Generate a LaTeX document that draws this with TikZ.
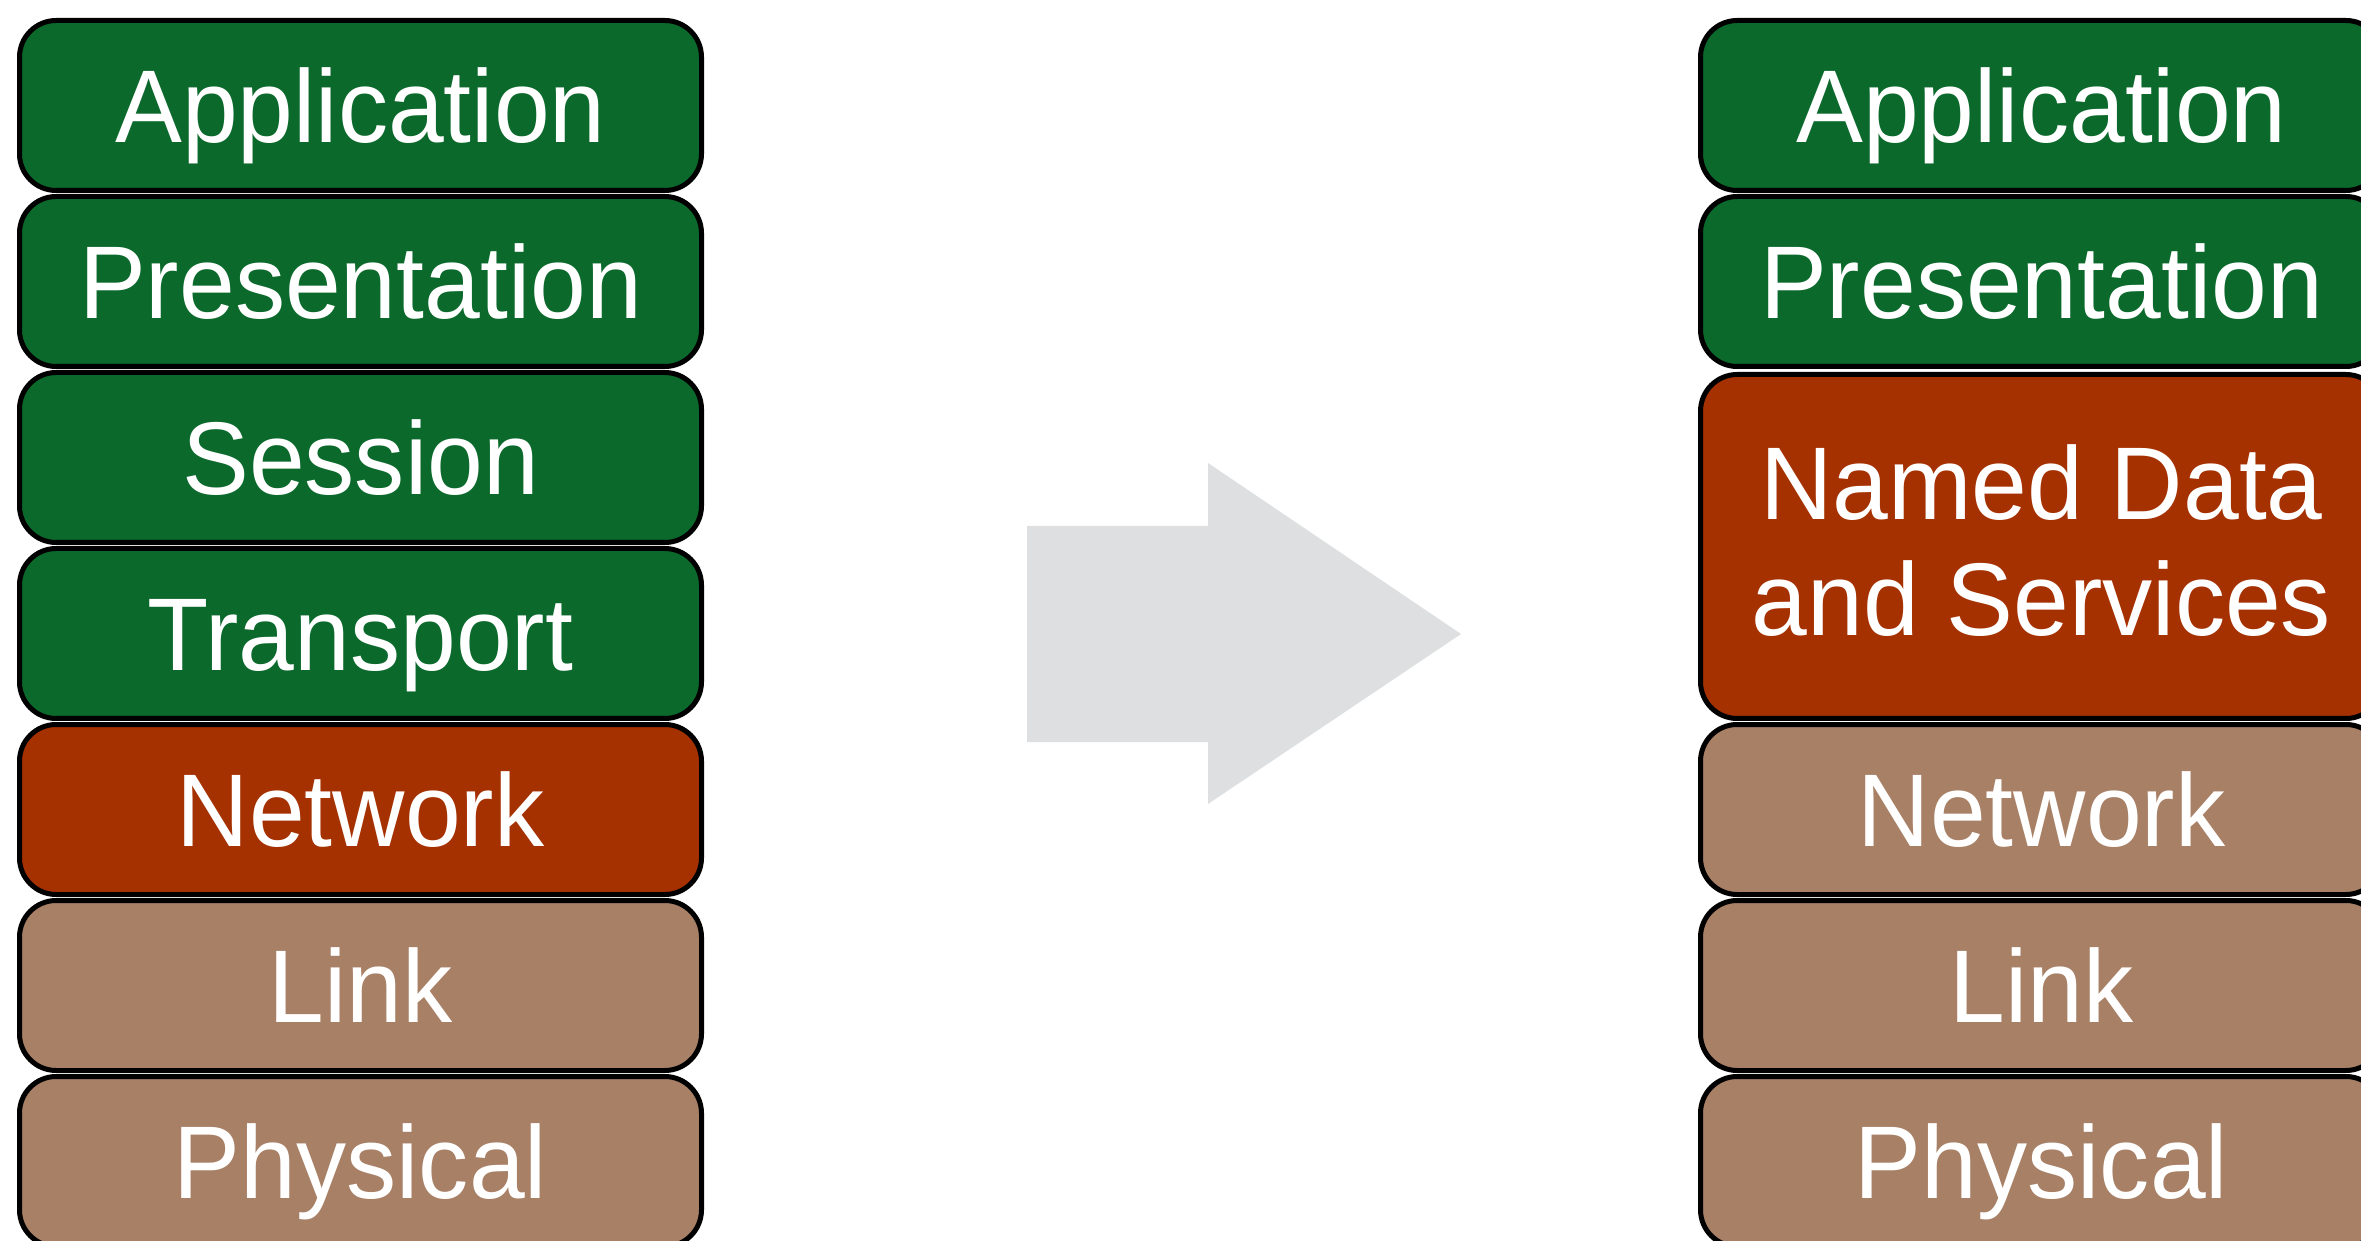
\documentclass[tikz,border=0pt]{standalone}
\usepackage{fontspec}
\setmainfont[FakeStretch=0.97]{Liberation Sans}
\definecolor{laygreen}{RGB}{11,105,44}
\definecolor{layred}{RGB}{165,48,0}
\definecolor{laytan}{RGB}{168,128,102}
\definecolor{arrowgray}{RGB}{222,223,224}
\begin{document}
\begin{tikzpicture}[x=0.3pt,y=-0.3pt,
  layer/.style={draw=black, line width=1.5pt, rounded corners=11pt,
    minimum width=204.6pt, minimum height=51pt, inner sep=0pt,
    text=white, font=\fontsize{31}{37}\selectfont,
    text height=22.2pt, text depth=0pt},
  txt/.style={text=white, font=\fontsize{31}{37}\selectfont, inner sep=0pt, anchor=base},
  gl/.style={layer, fill=laygreen},
  rl/.style={layer, fill=layred},
  tl/.style={layer, fill=laytan}]
\useasboundingbox (0,0) rectangle (2361,1241);
\clip (0,0) rectangle (2361,1241);
% left stack
\node[gl] (lapp)  at (360.5,105.5)  {Application};
\node[gl] (lpres) at (360.5,281.5)  {Presentation};
\node[gl] (lsess) at (360.5,457.5)  {Session};
\node[gl] (ltran) at (360.5,633.5)  {Transport};
\node[rl] (lnet)  at (360.5,809.5)  {Network};
\node[tl] (llink) at (360.5,985.5)  {Link};
\node[tl] (lphys) at (360.5,1161.5) {Physical};
% arrow
\fill[arrowgray] (1027,526) -- (1208,526) -- (1208,463) -- (1461,634)
  -- (1208,804) -- (1208,742) -- (1027,742) -- cycle;
% right stack
\node[gl] (rapp)  at (2041.5,105.5)  {Application};
\node[gl] (rpres) at (2041.5,281.5)  {Presentation};
\node[rl, minimum height=103.2pt, text height=0pt] (rnds) at (2041.5,546.5) {};
\node[txt] (rnds1) at (2041.5,520) {Named Data};
\node[txt] (rnds2) at (2041.5,635) {and Services};
\node[tl] (rnet)  at (2041.5,809.5)  {Network};
\node[tl] (rlink) at (2041.5,985.5)  {Link};
\node[tl] (rphys) at (2041.5,1161.5) {Physical};
\end{tikzpicture}
\end{document}
